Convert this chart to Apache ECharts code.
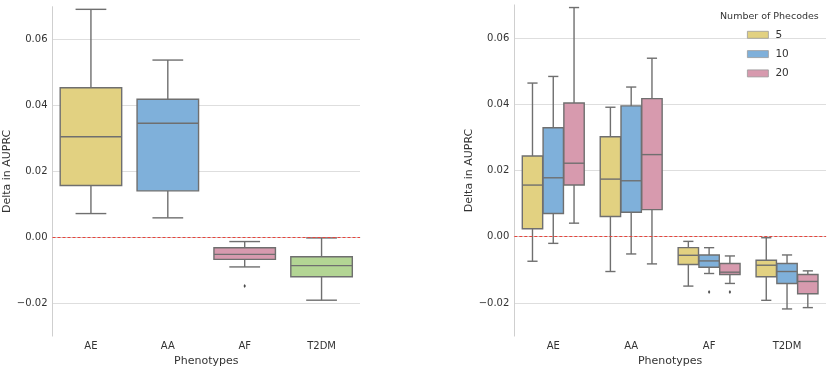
<!DOCTYPE html>
<html>
<head>
<meta charset="utf-8">
<script src="https://cdn.jsdelivr.net/npm/echarts@6/dist/echarts.min.js"></script>
<style>
  html, body { margin: 0; padding: 0; background: #fff; }
  #main { width: 832px; height: 372px; }
</style>
</head>
<body>
<div id="main"></div>
<script>
const phenotypes = ['AE', 'AA', 'AF', 'T2DM'];
const phenoColors = ['#e2d181', '#7fb0da', '#d79aae', '#b3d594'];

// each box: [low whisker, Q1, median, Q3, high whisker]
const allBoxes = [
  [0.0072, 0.0157, 0.0305, 0.0454, 0.0692],
  [0.0059, 0.0141, 0.0346, 0.0419, 0.0538],
  [-0.0090, -0.0067, -0.0052, -0.0032, -0.0013],
  [-0.0191, -0.0120, -0.0086, -0.0059, -0.0002]
];
const allOutliers = [[2, -0.0148]];   // [phenotype index, value]

const phecodeCounts = ['5', '10', '20'];
const phecodeColors = ['#e2d181', '#7fb0da', '#d79aae'];
const boxes5 = [
  [-0.0074, 0.0024, 0.0156, 0.0244, 0.0464],
  [-0.0105, 0.0061, 0.0174, 0.0302, 0.0391],
  [-0.0149, -0.0084, -0.0056, -0.0033, -0.0014],
  [-0.0192, -0.0121, -0.0086, -0.0071, -0.0003]
];
const boxes10 = [
  [-0.0020, 0.0070, 0.0178, 0.0329, 0.0484],
  [-0.0052, 0.0074, 0.0169, 0.0395, 0.0452],
  [-0.0111, -0.0092, -0.0073, -0.0055, -0.0033],
  [-0.0218, -0.0141, -0.0105, -0.0081, -0.0055]
];
const boxes20 = [
  [0.0041, 0.0156, 0.0222, 0.0404, 0.0692],
  [-0.0082, 0.0082, 0.0248, 0.0417, 0.0539],
  [-0.0141, -0.0114, -0.0107, -0.0081, -0.0058],
  [-0.0214, -0.0172, -0.0135, -0.0114, -0.0103]
];
const outliers10 = [[2, -0.0167]];
const outliers20 = [[2, -0.0167]];

const yTicks = [-0.02, 0.00, 0.02, 0.04, 0.06];

const edgeColor = '#6f6f6f';
const textColor = '#333333';
const font = 'DejaVu Sans';

function boxRender(nGroups, gi) {
  return function (params, api) {
    const cat = api.value(0);
    const band = api.size([1, 0])[0];
    const slot = band * 0.8 / nGroups;
    const cx = api.coord([cat, 0])[0] - band * 0.4 + slot * (gi + 0.5);
    const w = slot * (nGroups > 1 ? 0.98 : 1);
    const y = [1, 2, 3, 4, 5].map(i => api.coord([cat, api.value(i)])[1]);
    const ls = { stroke: edgeColor, lineWidth: 1.4, fill: null };
    return {
      type: 'group',
      children: [
        { type: 'line', shape: { x1: cx, y1: y[0], x2: cx, y2: y[1] }, style: ls },
        { type: 'line', shape: { x1: cx, y1: y[3], x2: cx, y2: y[4] }, style: ls },
        { type: 'line', shape: { x1: cx - w / 4, y1: y[0], x2: cx + w / 4, y2: y[0] }, style: ls },
        { type: 'line', shape: { x1: cx - w / 4, y1: y[4], x2: cx + w / 4, y2: y[4] }, style: ls },
        { type: 'rect', shape: { x: cx - w / 2, y: y[3], width: w, height: y[1] - y[3] },
          style: { fill: api.visual('color'), stroke: edgeColor, lineWidth: 1.4 } },
        { type: 'line', shape: { x1: cx - w / 2, y1: y[2], x2: cx + w / 2, y2: y[2] }, style: ls }
      ]
    };
  };
}

function outlierRender(nGroups, gi) {
  return function (params, api) {
    const cat = api.value(0);
    const band = api.size([1, 0])[0];
    const slot = band * 0.8 / nGroups;
    const p = api.coord([cat, api.value(1)]);
    const cx = p[0] - band * 0.4 + slot * (gi + 0.5);
    const cy = p[1];
    return {
      type: 'polygon',
      shape: { points: [[cx, cy - 2], [cx + 1.2, cy], [cx, cy + 2], [cx - 1.2, cy]] },
      style: { fill: '#4a4a4a' }
    };
  };
}

function toItems(boxes) {
  return boxes.map((b, i) => [i].concat(b));
}

function zeroLine() {
  return {
    silent: true,
    symbol: 'none',
    label: { show: false },
    lineStyle: { color: '#e8433b', type: [3, 2], width: 1, opacity: 1 },
    data: [{ yAxis: 0, lineStyle: { color: '#e8433b' } }]
  };
}

function makeYAxis(gi, gap) {
  return {
    type: 'value', gridIndex: gi,
    min: -0.03, max: 0.07, interval: 0.01,
    name: 'Delta in AUPRC', nameLocation: 'middle', nameGap: gap,
    nameTextStyle: { fontFamily: font, fontSize: 11, color: textColor },
    axisLine: { show: true, lineStyle: { color: '#cfcfcf', width: 1 } },
    axisTick: { show: false },
    axisLabel: {
      fontFamily: font, fontSize: 10, color: textColor, margin: 5,
      formatter: v => {
        const k = Math.round(v * 100);
        if (k % 2 !== 0) return '';
        return yTicks.indexOf(k / 100) >= 0 ? (k / 100).toFixed(2).replace('-', '\u2212') : '';
      }
    },
    splitLine: { show: true, lineStyle: { color: ['rgba(0,0,0,0)', '#dedede'], width: 1 } }
  };
}

function makeXAxis(gi, gap) {
  return {
    type: 'category', gridIndex: gi, data: phenotypes,
    name: 'Phenotypes', nameLocation: 'middle', nameGap: gap,
    nameTextStyle: { fontFamily: font, fontSize: 11, color: textColor },
    axisLine: { show: true, lineStyle: { color: '#cfcfcf', width: 1 } },
    axisTick: { show: false },
    axisLabel: { fontFamily: font, fontSize: 10, color: textColor, margin: 5 },
    splitLine: { show: false }
  };
}

const series = [
  {
    type: 'custom', name: 'all', xAxisIndex: 0, yAxisIndex: 0, z: 3,
    renderItem: boxRender(1, 0),
    encode: { x: 0, y: [1, 2, 3, 4, 5] },
    itemStyle: { color: '#e8433b' },
    data: toItems(allBoxes).map((v, i) => ({ value: v, itemStyle: { color: phenoColors[i] } })),
    markLine: zeroLine()
  },
  {
    type: 'custom', name: 'all outliers', xAxisIndex: 0, yAxisIndex: 0, z: 3,
    renderItem: outlierRender(1, 0),
    encode: { x: 0, y: 1 },
    data: allOutliers
  }
];

[boxes5, boxes10, boxes20].forEach((boxes, gi) => {
  series.push({
    type: 'custom', name: phecodeCounts[gi], xAxisIndex: 1, yAxisIndex: 1, z: 3,
    renderItem: boxRender(3, gi),
    encode: { x: 0, y: [1, 2, 3, 4, 5] },
    itemStyle: { color: phecodeColors[gi] },
    data: toItems(boxes),
    markLine: gi === 0 ? zeroLine() : undefined
  });
});
[[outliers10, 1], [outliers20, 2]].forEach(([pts, gi]) => {
  series.push({
    type: 'custom', name: 'outliers ' + phecodeCounts[gi], xAxisIndex: 1, yAxisIndex: 1, z: 3,
    renderItem: outlierRender(3, gi),
    encode: { x: 0, y: 1 },
    data: pts
  });
});

const chart = echarts.init(document.getElementById('main'), null, { renderer: 'canvas' });
chart.setOption({
  animation: false,
  backgroundColor: '#ffffff',
  title: {
    text: 'Number of Phecodes', left: 720, top: 12, padding: 0,
    textStyle: { fontFamily: font, fontSize: 9.5, fontWeight: 'normal', color: textColor }
  },
  legend: {
    data: phecodeCounts,
    orient: 'vertical', left: 747, top: 29.3, padding: 0,
    itemWidth: 21, itemHeight: 7, itemGap: 8.3,
    icon: 'rect',
    itemStyle: { borderColor: '#9a9a9a', borderWidth: 0.8 },
    textStyle: { fontFamily: font, fontSize: 10.5, color: textColor, padding: [0, 0, 0, 2] },
    selectedMode: false
  },
  grid: [
    { left: 52.5, top: 6.7, width: 307.5, height: 329.6 },
    { left: 514.3, top: 4.9, width: 311.7, height: 333.8 }
  ],
  xAxis: [makeXAxis(0, 13), makeXAxis(1, 15.5)],
  yAxis: [makeYAxis(0, 38), makeYAxis(1, 39)],
  series: series
});
</script>
</body>
</html>
